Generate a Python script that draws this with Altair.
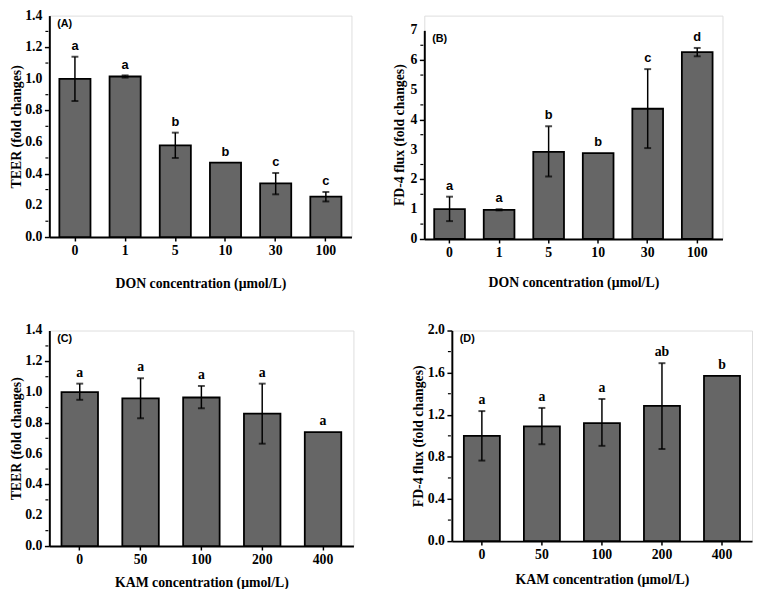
import altair as alt
import pandas as pd

SERIF = "Liberation Serif"
SANS = "Liberation Sans"

# Panel A: TEER vs DON
a_cats = ["0", "1", "5", "10", "30", "100"]
a_vals = [1.00, 1.015, 0.58, 0.47, 0.34, 0.255]
a_lo = [0.86, 1.008, 0.50, None, 0.27, 0.225]
a_hi = [1.14, 1.022, 0.66, None, 0.405, 0.285]
a_sig = ["a", "a", "b", "b", "c", "c"]
a_major = [0.0, 0.2, 0.4, 0.6, 0.8, 1.0, 1.2, 1.4]
a_minor = [0.1, 0.3, 0.5, 0.7, 0.9, 1.1, 1.3]

# Panel B: FD-4 flux vs DON
b_cats = ["0", "1", "5", "10", "30", "100"]
b_vals = [1.00, 0.98, 2.92, 2.88, 4.37, 6.27]
b_lo = [0.60, 0.96, 2.10, None, 3.05, 6.13]
b_hi = [1.42, 1.00, 3.78, None, 5.70, 6.41]
b_sig = ["a", "a", "b", "b", "c", "d"]
b_major = [0, 1, 2, 3, 4, 5, 6, 7]
b_minor = [0.5, 1.5, 2.5, 3.5, 4.5, 5.5, 6.5]

# Panel C: TEER vs KAM
c_cats = ["0", "50", "100", "200", "400"]
c_vals = [1.00, 0.96, 0.965, 0.86, 0.74]
c_lo = [0.95, 0.83, 0.895, 0.665, None]
c_hi = [1.055, 1.09, 1.04, 1.055, None]
c_sig = ["a", "a", "a", "a", "a"]
c_major = [0.0, 0.2, 0.4, 0.6, 0.8, 1.0, 1.2, 1.4]
c_minor = [0.1, 0.3, 0.5, 0.7, 0.9, 1.1, 1.3]

# Panel D: FD-4 flux vs KAM
d_cats = ["0", "50", "100", "200", "400"]
d_vals = [1.00, 1.09, 1.12, 1.285, 1.57]
d_lo = [0.765, 0.92, 0.905, 0.875, None]
d_hi = [1.235, 1.265, 1.35, 1.69, None]
d_sig = ["a", "a", "a", "ab", "b"]
d_major = [0.0, 0.4, 0.8, 1.2, 1.6, 2.0]
d_minor = [0.2, 0.6, 1.0, 1.4, 1.8]


def panel(cats, vals, lo, hi, sig, major, minor, fmt, ytitle, xtitle, tag,
          w, h, sigfont, sigsize, pi, po, xtp, ytp, top=0):
    df = pd.DataFrame({"cat": cats, "val": vals, "lo": lo, "hi": hi, "sig": sig})
    df["top"] = [hh if hh is not None else v for hh, v in zip(hi, vals)]
    ymax = major[-1]

    x = alt.X("cat:N", sort=cats,
              scale=alt.Scale(paddingInner=pi, paddingOuter=po),
              axis=alt.Axis(title=xtitle, labelAngle=0, labelFont=SERIF,
                            labelFontWeight="bold", labelFontSize=14,
                            labelColor="black", titleFont=SERIF,
                            titleFontWeight="bold", titleFontSize=14,
                            titleColor="black", domainColor="black",
                            domainWidth=2, tickColor="black", tickWidth=1.5,
                            tickSize=4, labelPadding=3, titlePadding=xtp))
    yscale = alt.Scale(domain=[0, ymax], nice=False, zero=True, range=[h, top])
    yaxis = alt.Axis(title=ytitle, values=major, labels=False,
                     tickSize=5, titleFont=SERIF,
                     titleFontWeight="bold", titleFontSize=14, titleColor="black",
                     domainColor="black", domainWidth=2, tickColor="black",
                     tickWidth=1.5, titlePadding=ytp, grid=False)

    base = alt.Chart(df)
    bars = base.mark_bar(color="#666666", stroke="black", strokeWidth=1.8).encode(
        x=x, y=alt.Y("val:Q", scale=yscale, axis=yaxis))
    errs = base.transform_filter("isValid(datum.lo)")
    rule = errs.mark_rule(color="black", strokeWidth=1.5).encode(
        x=alt.X("cat:N", sort=cats), y="lo:Q", y2="hi:Q")
    cap_lo = errs.mark_tick(color="black", thickness=2, size=7, orient="horizontal").encode(
        x=alt.X("cat:N", sort=cats), y="lo:Q")
    cap_hi = errs.mark_tick(color="black", thickness=2, size=7, orient="horizontal").encode(
        x=alt.X("cat:N", sort=cats), y="hi:Q")
    letters = base.mark_text(font=sigfont, fontWeight="bold", fontSize=sigsize,
                             baseline="bottom", dy=-4, color="black").encode(
        x=alt.X("cat:N", sort=cats), y="top:Q", text="sig:N")
    minor_ticks = alt.Chart(pd.DataFrame({"m": minor})).mark_rule(
        color="black", strokeWidth=1.2).encode(
        y=alt.Y("m:Q"), x=alt.value(-4), x2=alt.value(-1))
    ylabels = alt.Chart(pd.DataFrame({"v": major, "lab": [format(v, fmt) for v in major]})).mark_text(
        align="right", baseline="middle", font=SERIF, fontWeight="bold",
        fontSize=14, color="black").encode(
        y=alt.Y("v:Q"), x=alt.value(-7), text="lab:N")
    tagc = alt.Chart(pd.DataFrame({"t": [tag]})).mark_text(
        align="left", baseline="top", font=SANS, fontWeight="bold", fontSize=11,
        color="black").encode(text="t:N", x=alt.value(8), y=alt.value(top + 3))
    return alt.layer(bars, rule, cap_lo, cap_hi, letters, minor_ticks, ylabels, tagc).properties(
        width=w, height=h)


A = panel(a_cats, a_vals, a_lo, a_hi, a_sig, a_major, a_minor, ".1f",
          "TEER (fold changes)", "DON concentration (\u03bcmol/L)", "(A)",
          307, 225, SANS, 13, 0.38, 0.2, 19, 21)
B = panel(b_cats, b_vals, b_lo, b_hi, b_sig, b_major, b_minor, ".0f",
          "FD-4 flux (fold changes)", "DON concentration (\u03bcmol/L)", "(B)",
          303, 227, SANS, 13, 0.38, 0.2, 16, 12, top=15)
C = panel(c_cats, c_vals, c_lo, c_hi, c_sig, c_major, c_minor, ".1f",
          "TEER (fold changes)", "KAM concentration (\u03bcmol/L)", "(C)",
          309, 219, SERIF, 14, 0.4, 0.2, 9, 21)
D = panel(d_cats, d_vals, d_lo, d_hi, d_sig, d_major, d_minor, ".1f",
          "FD-4 flux (fold changes)", "KAM concentration (\u03bcmol/L)", "(D)",
          305, 214, SERIF, 14, 0.4, 0.2, 11, 21)

row1 = alt.hconcat(A, B, spacing=40)
row2 = alt.hconcat(C, D, spacing=57)
chart = alt.vconcat(row1, row2, spacing=32).properties(
    padding={"left": 0, "top": -5, "right": 0, "bottom": 0}
).configure_view(stroke=None).configure(background="white")

chart.save("out.html", embed_options={"renderer": "svg", "actions": False})
